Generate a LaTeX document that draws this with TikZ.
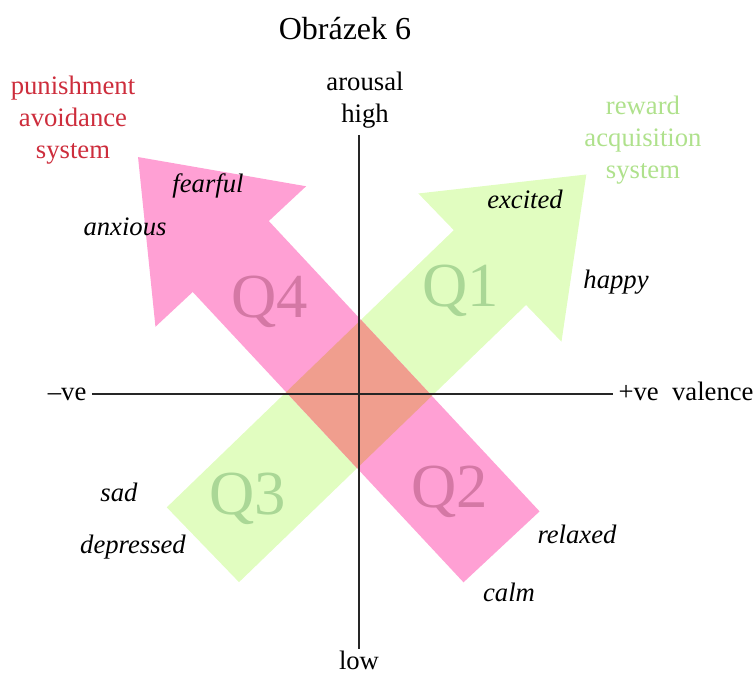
\documentclass[tikz,border=0pt]{standalone}
\usepackage{fontspec}
\setmainfont{Liberation Serif}
\usepackage{tikz}
\definecolor{punishpink}{RGB}{255,160,212}
\definecolor{rewardgreen}{RGB}{225,253,192}
\definecolor{overlapred}{RGB}{240,158,142}
\definecolor{qpink}{RGB}{212,120,165}
\definecolor{qgreen}{RGB}{170,215,150}
\definecolor{punishred}{RGB}{205,45,60}
\definecolor{rewardlabel}{RGB}{175,225,140}
\tikzset{
  axisline/.style  = {line width=2pt,black!85},
  axislabel/.style = {font=\fontsize{20}{24}\selectfont,text height=9pt,text depth=0pt,inner sep=4pt},
  mood/.style      = {font=\fontsize{20}{24}\selectfont\itshape,text height=9pt,text depth=0pt,inner sep=0pt},
  quadrant/.style  = {font=\fontsize{47}{47}\selectfont},
  system/.style    = {font=\fontsize{20}{24}\selectfont,align=center}
}

\begin{document}
\begin{tikzpicture}[x=75pt,y=75pt]
  \useasboundingbox (-3.59,-2.81) rectangle (3.97,3.94);
  \fill[rewardgreen,rotate=44] (-2.17,-0.52) -- (1.82,-0.52) -- (1.82,-1.03) -- (3.16,0)
        -- (1.82,1.03) -- (1.82,0.52) -- (-2.17,0.52) -- cycle;
  \fill[punishpink,rotate=133] (-2.09,-0.52) -- (1.88,-0.52) -- (1.88,-1.03) -- (3.24,0)
        -- (1.88,1.03) -- (1.88,0.52) -- (-2.09,0.52) -- cycle;
  \begin{scope}
    \clip[rotate=44] (-2.17,-0.52) -- (1.82,-0.52) -- (1.82,0.52) -- (-2.17,0.52) -- cycle;
    \fill[overlapred,rotate=133] (-2.09,-0.52) -- (1.88,-0.52) -- (1.88,0.52) -- (-2.09,0.52) -- cycle;
  \end{scope}
  \node[quadrant,qgreen] (q1) at (1.02,1.03)   {Q1};
  \node[quadrant,qpink]  (q2) at (0.91,-0.98)  {Q2};
  \node[quadrant,qgreen] (q3) at (-1.11,-1.05) {Q3};
  \node[quadrant,qpink]  (q4) at (-0.89,0.92)  {Q4};
  \coordinate (O) at (0,0);
  \node[font=\fontsize{24}{29}\selectfont] (title) at (-0.14,3.65) {Obrázek 6};
  \node[axislabel,anchor=east] (neg) at (-2.67,0) {\textendash ve};
  \node[axislabel,anchor=west] (pos) at (2.54,0)  {+ve\ \ valence};
  \node[system,anchor=south,inner sep=5pt] (arousal) at (0.06,2.59) {arousal\\high};
  \node[font=\fontsize{20}{24}\selectfont,anchor=north,inner sep=1.5pt] (low) at (0,-2.55) {low};
  \draw[axisline] (neg) -- (pos);
  \draw[axisline] (arousal.south -| O) -- (low.north -| O);
  \node[system,punishred]   (punish) at (-2.86,2.74) {punishment\\avoidance\\system};
  \node[system,rewardlabel] (reward) at (2.84,2.54)  {reward\\acquisition\\system};
  \node[mood] (fearful)   at (-1.51,2.07)  {fearful};
  \node[mood] (anxious)   at (-2.34,1.64)  {anxious};
  \node[mood] (excited)   at (1.66,1.91)   {excited};
  \node[mood] (happy)     at (2.57,1.12)   {happy};
  \node[mood] (sad)       at (-2.40,-1.01) {sad};
  \node[mood] (depressed) at (-2.26,-1.53) {depressed};
  \node[mood] (relaxed)   at (2.18,-1.43)  {relaxed};
  \node[mood] (calm)      at (1.50,-2.01)  {calm};
\end{tikzpicture}
\end{document}
